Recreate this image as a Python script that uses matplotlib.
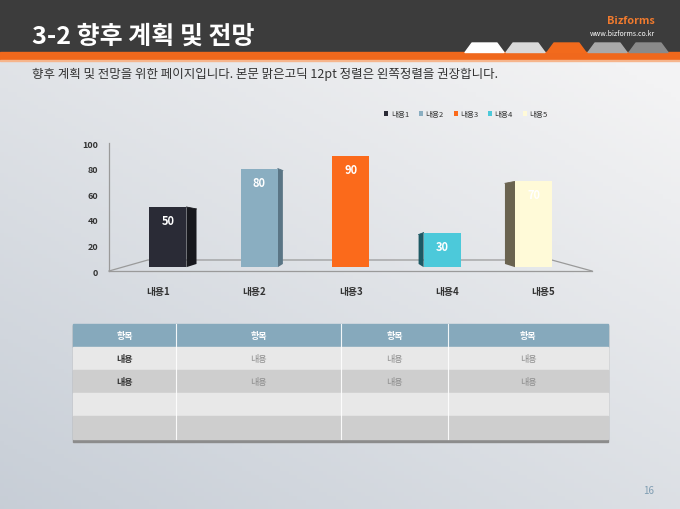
import matplotlib
matplotlib.use("Agg")
import matplotlib.pyplot as plt
import numpy as np
from matplotlib.patches import Polygon, Rectangle, Patch
from matplotlib.colors import to_rgb

plt.rcParams["font.family"] = ["Noto Sans CJK KR", "DejaVu Sans"]

# ---- data ----
categories = ["내용1", "내용2", "내용3", "내용4", "내용5"]
values = [50, 80, 90, 30, 70]
front_colors = ["#2a2b36", "#8aaec1", "#fb6a1b", "#4cc9da", "#fffad8"]
side_colors = ["#17181d", "#5a7585", "#c4530f", "#1d5964", "#6a6350"]
yticks = [0, 20, 40, 60, 80, 100]

table_header = ["항목", "항목", "항목", "항목"]
table_rows = [["내용", "내용", "내용", "내용"],
              ["내용", "내용", "내용", "내용"],
              ["", "", "", ""],
              ["", "", "", ""]]

title = "3-2 향후 계획 및 전망"
subtitle = "향후 계획 및 전망을 위한 페이지입니다. 본문 맑은고딕 12pt 정렬은 왼쪽정렬을 권장합니다."
page_no = "16"

W, H = 680, 510
fig = plt.figure(figsize=(W / 100, H / 100), dpi=100)

# ---- slide background / decorations (pixel coordinates) ----
bg = fig.add_axes([0, 0, 1, 1])
bg.set_xlim(0, W)
bg.set_ylim(H, 0)
bg.axis("off")

yy, xx = np.mgrid[0:1:120j, 0:1:160j]
t = np.clip(0.62 * yy + 0.45 * (1 - xx) - 0.12, 0, 1)[..., None]
light = np.array(to_rgb("#f3f3f4"))
dark = np.array(to_rgb("#c5ccd5"))
bg.imshow(light * (1 - t) + dark * t, extent=(0, W, H, 0), aspect="auto", zorder=0)

bg.add_patch(Rectangle((0, 0), W, 53, color="#3c3c3c", zorder=1))
bg.add_patch(Rectangle((0, 53), W, 7.5, color="#f0681c", zorder=1))
bg.add_patch(Rectangle((0, 60.5), W, 1.2, color="#f6b58c", zorder=1))

tab_colors = ["#ffffff", "#d9d9d9", "#f26a1c", "#a9a9a9", "#8a8a8a"]
for i, c in enumerate(tab_colors):
    x0 = 465 + i * 41
    bg.add_patch(Polygon([(x0, 53.5), (x0 + 7, 44), (x0 + 32, 44), (x0 + 39, 53.5)],
                         closed=True, color=c, zorder=2, joinstyle="round"))

bg.text(32, 37, title, color="white", fontsize=18, fontweight="bold",
        va="center", ha="left", zorder=3)
bg.text(655, 21, "Bizforms", color="#f07a2e", fontsize=7.8, fontweight="bold",
        va="center", ha="right", zorder=3)
bg.text(655, 34, "www.bizforms.co.kr", color="white", fontsize=5,
        va="center", ha="right", zorder=3)
bg.text(32, 74, subtitle, color="#333333", fontsize=9, va="center", ha="left", zorder=3)
bg.text(649, 491, page_no, color="#7f9db2", fontsize=7, va="center", ha="center", zorder=3)

# ---- table ----
col_edges = [73, 176, 341, 448, 608]
row_edges = [325, 348, 371, 394, 417, 440]
row_colors = ["#e8e8e8", "#cecece"]
bg.add_patch(Rectangle((73, 326), 608 - 73, 117, color="#8c8c8c", zorder=2))
bg.add_patch(Rectangle((73, 325), 608 - 73, 348 - 325, color="#86a9bc", zorder=3))
for r in range(len(table_rows)):
    bg.add_patch(Rectangle((73, row_edges[r + 1]), 608 - 73,
                           row_edges[r + 2] - row_edges[r + 1],
                           color=row_colors[r % 2], zorder=3))
for xc in col_edges[1:-1]:
    bg.plot([xc, xc], [325, 440], color="white", lw=0.8, alpha=0.9, zorder=4)
for j, h in enumerate(table_header):
    xm = (col_edges[j] + col_edges[j + 1]) / 2
    bg.text(xm, 336.5, h, color="white", fontsize=6.5, fontweight="bold",
            ha="center", va="center", zorder=5)
for r, row in enumerate(table_rows):
    ym = (row_edges[r + 1] + row_edges[r + 2]) / 2
    for j, txt in enumerate(row):
        xm = (col_edges[j] + col_edges[j + 1]) / 2
        if j == 0:
            bg.text(xm, ym, txt, color="#333333", fontsize=6.5, fontweight="bold",
                    ha="center", va="center", zorder=5)
        else:
            bg.text(xm, ym, txt, color="#8a8a8a", fontsize=6.5,
                    ha="center", va="center", zorder=5)

# ---- bar chart ----
ax = fig.add_axes([109 / W, (H - 272) / H, (592 - 109) / W, (272 - 144) / H])
ax.patch.set_alpha(0)
x0, x1 = -0.645, 4.64
ax.set_xlim(x0, x1)
ax.set_ylim(0, 100)
for s in ax.spines.values():
    s.set_visible(False)
ax.set_xticks([])
ax.set_yticks(yticks)
ax.set_yticklabels([str(v) for v in yticks], fontsize=6.5, fontweight="bold", color="#333333")
ax.tick_params(axis="y", length=0, pad=8)

floor_back = 8.6
floor_mid = 3
bx0, bx1 = -0.22, 4.2
line_kw = dict(color="#9a9a9a", lw=0.9, clip_on=False)
ax.plot([x0, x0], [0, 100], **line_kw)
ax.plot([x0, x1], [0, 0], **line_kw)
ax.plot([x0, bx0, bx1, x1], [0, floor_back, floor_back, 0], **line_kw)

x = np.arange(len(categories))
width = 0.405
vals = np.array(values, dtype=float)
ax.bar(x, vals - floor_mid, bottom=floor_mid, width=width,
       color=front_colors, zorder=3)

# perspective side faces
for i, v in enumerate(vals):
    dx = (2 - i) * 0.055
    if dx == 0:
        continue
    edge = x[i] + width / 2 if dx > 0 else x[i] - width / 2
    ax.fill([edge, edge, edge + dx, edge + dx],
            [floor_mid, v, v - 1.5, floor_mid + 2.5],
            color=side_colors[i], zorder=2.5, lw=0)
    ax.plot([edge, edge + dx], [v, v - 1.5], color=side_colors[i], lw=0.6, zorder=2.6)

for i, v in enumerate(vals):
    ax.text(x[i], v - 10.5, f"{int(v)}", color="white", fontsize=8,
            fontweight="bold", ha="center", va="center", zorder=4)

for i, c in enumerate(categories):
    ax.text(i + (i - 2) * 0.055, -15.6, c, color="#333333", fontsize=7,
            fontweight="bold", ha="center", va="center", clip_on=False)

handles = [Patch(facecolor=c, edgecolor="none") for c in front_colors]
fig.legend(handles, categories, loc="center", bbox_to_anchor=(466 / W, 1 - 115 / H),
           ncol=5, frameon=False, fontsize=5.5, handlelength=0.55, handleheight=0.6,
           columnspacing=1.3, handletextpad=0.3, labelcolor="#333333")

fig.savefig("out.png", dpi=100)
